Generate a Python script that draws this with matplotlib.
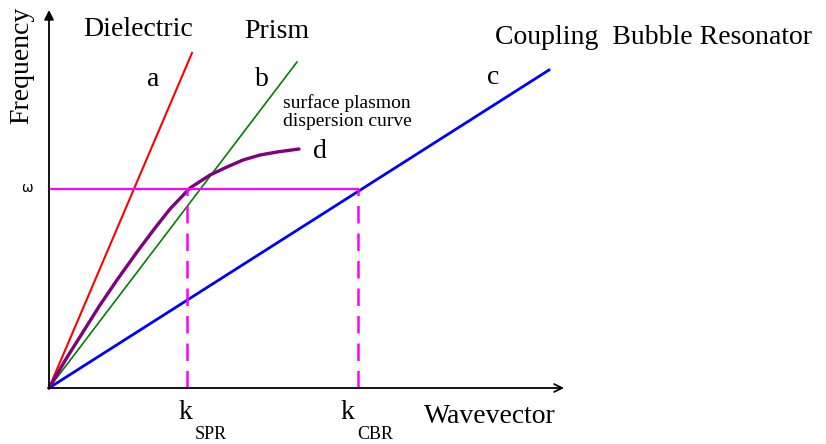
import numpy as np
import matplotlib.pyplot as plt

plt.rcParams['font.family'] = ['Liberation Serif', 'DejaVu Serif']

# light lines, given as end points [wavevector], [frequency]
dielectric = [[0, 143], [0, 335]]
prism = [[0, 248], [0, 326]]
resonator = [[0, 500], [0, 318]]

# surface plasmon dispersion curve d
sp_k = [0, 17, 34, 51, 68, 88, 106, 121, 141, 161, 178, 194, 211, 228, 250]
sp_w = [0, 29, 56, 83, 108, 136, 160, 179, 200, 213, 221, 228, 233, 236, 239]

omega = 199
k_spr = 138
k_cbr = 309

fig = plt.figure(figsize=(8.26, 4.44), dpi=100)
ax = fig.add_axes([0, 0, 1, 1])
ax.set_xlim(-49, 777)
ax.set_ylim(-56, 388)
ax.axis('off')

# axes with arrows
ax.annotate('', xy=(0, 378), xytext=(0, 0),
            arrowprops=dict(arrowstyle='-|>', lw=1.3, color='black',
                            mutation_scale=14, shrinkA=0, shrinkB=0))
ax.annotate('', xy=(515, 0), xytext=(0, 0),
            arrowprops=dict(arrowstyle='->', lw=1.3, color='black',
                            mutation_scale=14, shrinkA=0, shrinkB=0))

ax.plot(dielectric[0], dielectric[1], color='#ff0000', lw=1.5)
ax.plot(prism[0], prism[1], color='#008000', lw=1.2)
ax.plot(resonator[0], resonator[1], color='#0000ff', lw=2.0)
ax.plot(sp_k, sp_w, color='#800080', lw=2.4, solid_capstyle='round',
        solid_joinstyle='round')

ax.plot([0, k_cbr], [omega, omega], color='#ff00ff', lw=1.6)
ax.plot([k_spr, k_spr], [0, omega], color='#ff00ff', lw=1.8, dashes=(7, 4))
ax.plot([k_cbr, k_cbr], [0, omega], color='#ff00ff', lw=1.8, dashes=(7, 4))

fs = 20
ax.text(-27, 323, 'Frequency', rotation=90, fontsize=fs, ha='center', va='center')
ax.text(-22, 200, 'ω', fontsize=10, ha='center', va='center', family=['DejaVu Sans'])
ax.text(89, 358, 'Dielectric', fontsize=fs, ha='center', va='center')
ax.text(228, 356, 'Prism', fontsize=fs, ha='center', va='center')
ax.text(446, 350, 'Coupling  Bubble Resonator', fontsize=fs, ha='left', va='center')
ax.text(104, 309, 'a', fontsize=fs, ha='center', va='center')
ax.text(213, 309, 'b', fontsize=fs, ha='center', va='center')
ax.text(444, 310, 'c', fontsize=fs, ha='center', va='center')
ax.text(271, 236, 'd', fontsize=fs, ha='center', va='center')
ax.text(234, 276, 'surface plasmon\ndispersion curve', fontsize=14,
        ha='left', va='center', linespacing=1.1)
ax.text(136, -24, 'k', fontsize=fs, ha='center', va='center')
ax.text(146, -46, 'SPR', fontsize=13, ha='left', va='center')
ax.text(298, -24, 'k', fontsize=fs, ha='center', va='center')
ax.text(308, -46, 'CBR', fontsize=13, ha='left', va='center')
ax.text(441, -28, 'Wavevector', fontsize=fs, ha='center', va='center')

fig.savefig('out.png', dpi=100)
